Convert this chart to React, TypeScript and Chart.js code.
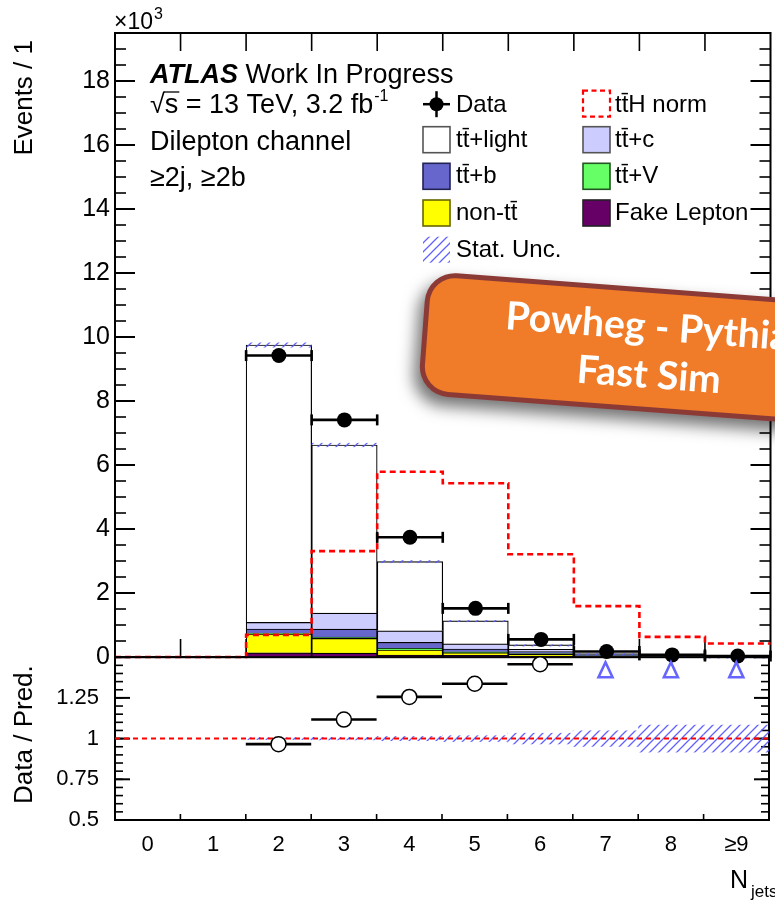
import React, { useEffect, useRef } from 'react';
import { Chart, registerables } from 'chart.js';

Chart.register(...registerables);

const FONT = '"Liberation Sans", Arial, Helvetica, sans-serif';

// ---------------- data (values in units of 10^3 events) ----------------
const categories = ['0', '1', '2', '3', '4', '5', '6', '7', '8', '≥9'];
const fakeLepton = [null, null, 0.13, 0.12, 0.06, 0.05, 0.03, 0.01, 0.004, 0.002];
const nonTT = [null, null, 0.59, 0.46, 0.16, 0.085, 0.05, 0.015, 0.005, 0.002];
const ttV = [null, null, 0.02, 0.04, 0.05, 0.03, 0.03, 0.015, 0.005, 0.003];
const ttB = [null, null, 0.135, 0.25, 0.19, 0.085, 0.06, 0.02, 0.006, 0.003];
const ttC = [null, null, 0.205, 0.5, 0.36, 0.16, 0.07, 0.02, 0.006, 0.003];
const ttLight = [null, null, 8.67, 5.255, 2.16, 0.72, 0.14, 0.03, 0.008, 0.004];
const dataEvents = [null, null, 9.42, 7.41, 3.74, 1.52, 0.55, 0.17, 0.065, 0.03];
const ttHNorm = [0, 0, 0.69, 3.31, 5.79, 5.43, 3.21, 1.59, 0.63, 0.42];
const statUncRel = [null, null, 0.008, 0.01, 0.015, 0.02, 0.035, 0.05, 0.085, 0.085];
const ratioValues = [null, null, 0.966, 1.117, 1.256, 1.337, 1.457, 1.6, 2.0, 1.8];

const mcStack = [fakeLepton, nonTT, ttV, ttB, ttC, ttLight];

// ---------------- helpers ----------------
function makeHatch(ctx: CanvasRenderingContext2D) {
  const c = document.createElement('canvas');
  c.width = 9;
  c.height = 9;
  const g = c.getContext('2d')!;
  g.strokeStyle = 'rgba(90,90,255,0.95)';
  g.lineWidth = 1.3;
  g.beginPath();
  g.moveTo(-1, 10);
  g.lineTo(10, -1);
  g.moveTo(-1, 1);
  g.lineTo(1, -1);
  g.moveTo(8, 10);
  g.lineTo(10, 8);
  g.stroke();
  return ctx.createPattern(c, 'repeat')!;
}

function line(ctx: CanvasRenderingContext2D, x1: number, y1: number, x2: number, y2: number) {
  ctx.beginPath();
  ctx.moveTo(x1, y1);
  ctx.lineTo(x2, y2);
  ctx.stroke();
}

function range(a: number, b: number, s: number) {
  const out: number[] = [];
  for (let k = 0; a + k * s <= b + 1e-9; k++) out.push(+(a + k * s).toFixed(4));
  return out;
}

function drawFrame(chart: any, yMajor: number[], yMinor: number[], majLen: number, minLen: number, xTop: number, xBottom: number) {
  const { ctx, chartArea: ca } = chart;
  const y = chart.scales.y;
  const x = chart.scales.x;
  ctx.save();
  ctx.strokeStyle = '#000';
  ctx.lineWidth = 2;
  ctx.strokeRect(ca.left, ca.top, ca.right - ca.left, ca.bottom - ca.top);
  ctx.lineWidth = 1.6;
  for (const v of yMinor) {
    const p = y.getPixelForValue(v);
    line(ctx, ca.left, p, ca.left + minLen, p);
    line(ctx, ca.right - minLen, p, ca.right, p);
  }
  ctx.lineWidth = 2;
  for (const v of yMajor) {
    const p = y.getPixelForValue(v);
    line(ctx, ca.left, p, ca.left + majLen, p);
    line(ctx, ca.right - majLen, p, ca.right, p);
  }
  ctx.lineWidth = 1.6;
  for (let i = 0; i < categories.length - 1; i++) {
    const px = x.getPixelForValue(i + 0.5);
    if (xTop > 0) line(ctx, px, ca.top, px, ca.top + xTop);
    if (xBottom > 0) line(ctx, px, ca.bottom, px, ca.bottom - xBottom);
  }
  ctx.restore();
}

function drawCallout(ctx: CanvasRenderingContext2D) {
  ctx.save();
  ctx.translate(427, 271);
  ctx.rotate((4.3 * Math.PI) / 180);
  ctx.shadowColor = 'rgba(0,0,0,0.55)';
  ctx.shadowBlur = 16;
  ctx.shadowOffsetX = -6;
  ctx.shadowOffsetY = 9;
  ctx.beginPath();
  (ctx as any).roundRect(0, 0, 440, 124, 30);
  ctx.fillStyle = '#8c3a36';
  ctx.fill();
  ctx.shadowColor = 'transparent';
  ctx.beginPath();
  (ctx as any).roundRect(5, 5, 430, 114, 25);
  ctx.fillStyle = '#f07b28';
  ctx.fill();
  ctx.fillStyle = '#ffffff';
  ctx.font = 'bold 39px Lato, "Open Sans", sans-serif';
  ctx.textAlign = 'left';
  ctx.textBaseline = 'alphabetic';
  ctx.fillText('Powheg - Pythia', 82, 52);
  ctx.fillText('Fast Sim', 157, 100);
  ctx.restore();
}

function legendBox(ctx: CanvasRenderingContext2D, x: number, base: number, fill: string, stroke: string) {
  ctx.fillStyle = fill;
  ctx.fillRect(x, base - 20, 27, 26);
  ctx.strokeStyle = stroke;
  ctx.lineWidth = 1.6;
  ctx.strokeRect(x, base - 20, 27, 26);
}

function drawTopTexts(chart: any) {
  const ctx: CanvasRenderingContext2D = chart.ctx;
  ctx.save();
  ctx.fillStyle = '#000';
  ctx.textBaseline = 'alphabetic';
  ctx.textAlign = 'left';
  ctx.font = `23px ${FONT}`;
  ctx.fillText('×10', 114, 29);
  const w10 = ctx.measureText('×10').width;
  ctx.font = `16px ${FONT}`;
  ctx.fillText('3', 114 + w10 + 1, 19);

  ctx.save();
  ctx.translate(32, 40);
  ctx.rotate(-Math.PI / 2);
  ctx.font = `26px ${FONT}`;
  ctx.textAlign = 'right';
  ctx.fillText('Events / 1', 0, 0);
  ctx.restore();

  ctx.font = `italic bold 27px ${FONT}`;
  ctx.fillText('ATLAS', 150, 83);
  const wA = ctx.measureText('ATLAS').width;
  ctx.font = `27px ${FONT}`;
  ctx.fillText(' Work In Progress', 150 + wA, 83);

  const s1 = '√s = 13 TeV, 3.2 fb';
  ctx.fillText(s1, 150, 113);
  const wRoot = ctx.measureText('√').width;
  const wS = ctx.measureText('√s').width;
  const w1 = ctx.measureText(s1).width;
  ctx.strokeStyle = '#000';
  ctx.lineWidth = 1.3;
  line(ctx, 150 + wRoot - 1, 92, 150 + wS + 1, 92);
  ctx.font = `16px ${FONT}`;
  ctx.fillText('-1', 150 + w1 + 1, 101);
  ctx.font = `27px ${FONT}`;
  ctx.fillText('Dilepton channel', 150, 150);
  ctx.fillText('≥2j, ≥2b', 150, 186);

  const rows = [111.7, 146.7, 183.3, 220, 256.7];
  const c1b = 423, c1t = 456, c2b = 583, c2t = 615;
  ctx.font = `24px ${FONT}`;
  ctx.strokeStyle = '#000';
  ctx.lineWidth = 2.5;
  const cy = rows[0] - 7.5;
  line(ctx, c1b, cy, c1b + 27, cy);
  line(ctx, c1b + 13.5, cy - 13, c1b + 13.5, cy + 13);
  ctx.beginPath();
  ctx.arc(c1b + 13.5, cy, 7, 0, Math.PI * 2);
  ctx.fillStyle = '#000';
  ctx.fill();
  ctx.fillText('Data', c1t, rows[0]);
  ctx.save();
  ctx.strokeStyle = '#ff0000';
  ctx.lineWidth = 2.2;
  ctx.setLineDash([5, 3.5]);
  ctx.strokeRect(c2b, rows[0] - 21, 27, 26);
  ctx.restore();
  ctx.fillStyle = '#000';
  ctx.fillText('tt\u0304H norm', c2t, rows[0]);

  const entries = [
    [c1b, c1t, rows[1], '#ffffff', '#555555', 'tt\u0304+light'],
    [c2b, c2t, rows[1], '#ccccff', '#555555', 'tt\u0304+c'],
    [c1b, c1t, rows[2], '#6666cc', '#222255', 'tt\u0304+b'],
    [c2b, c2t, rows[2], '#66ff66', '#225522', 'tt\u0304+V'],
    [c1b, c1t, rows[3], '#ffff00', '#666600', 'non-tt\u0304'],
    [c2b, c2t, rows[3], '#660066', '#222222', 'Fake Lepton'],
  ] as const;
  for (const [bx, tx, base, fill, stroke, label] of entries) {
    legendBox(ctx, bx, base, fill, stroke);
    ctx.fillStyle = '#000';
    ctx.fillText(label, tx, base);
  }
  ctx.fillStyle = makeHatch(ctx);
  ctx.fillRect(c1b, rows[4] - 20, 27, 26);
  ctx.fillStyle = '#000';
  ctx.fillText('Stat. Unc.', c1t, rows[4]);
  ctx.restore();

  drawCallout(ctx);
}

function drawMainHatch(chart: any) {
  const { ctx } = chart;
  const y = chart.scales.y;
  const x = chart.scales.x;
  ctx.save();
  ctx.fillStyle = makeHatch(ctx);
  for (let i = 0; i < categories.length; i++) {
    const u = statUncRel[i];
    if (u == null) continue;
    let tot = 0;
    for (const s of mcStack) tot += (s[i] as number) || 0;
    const y1 = y.getPixelForValue(tot * (1 + u));
    const y2 = y.getPixelForValue(tot * (1 - u));
    const x1 = x.getPixelForValue(i - 0.5);
    const x2 = x.getPixelForValue(i + 0.5);
    ctx.fillRect(x1, y1, x2 - x1, Math.max(y2 - y1, 2));
  }
  ctx.restore();
}

function drawDataErrors(chart: any) {
  const { ctx } = chart;
  const y = chart.scales.y;
  const x = chart.scales.x;
  ctx.save();
  ctx.strokeStyle = '#000';
  ctx.lineWidth = 2.6;
  for (let i = 0; i < categories.length; i++) {
    const v = dataEvents[i];
    if (v == null) continue;
    const py = y.getPixelForValue(v);
    const x1 = x.getPixelForValue(i - 0.5);
    const x2 = x.getPixelForValue(i + 0.5);
    line(ctx, x1, py, x2, py);
    line(ctx, x1, py - 5.5, x1, py + 5.5);
    line(ctx, x2, py - 5.5, x2, py + 5.5);
  }
  ctx.restore();
}

const topPlugin = {
  id: 'topDecor',
  beforeDatasetsDraw(chart: any) {
    drawFrame(chart, range(0, 18, 2), range(0, 19.5, 0.5), 20, 11, 18, 18);
  },
  beforeDatasetDraw(chart: any, args: any) {
    if (args.index === 6) drawMainHatch(chart);
    if (args.index === 7) drawDataErrors(chart);
  },
  afterDraw(chart: any) {
    drawTopTexts(chart);
  },
};

const botPlugin = {
  id: 'botDecor',
  beforeDatasetsDraw(chart: any) {
    const { ctx, chartArea: ca } = chart;
    const y = chart.scales.y;
    const x = chart.scales.x;
    drawFrame(chart, range(0.5, 1.5, 0.25), range(0.5, 1.5, 0.05), 15, 8, 0, 6);
    ctx.save();
    ctx.fillStyle = makeHatch(ctx);
    for (let i = 0; i < categories.length; i++) {
      const u = statUncRel[i];
      if (u == null) continue;
      const y1 = y.getPixelForValue(1 + u);
      const y2 = y.getPixelForValue(1 - u);
      const x1 = x.getPixelForValue(i - 0.5);
      const x2 = x.getPixelForValue(i + 0.5);
      ctx.fillRect(x1, y1, x2 - x1, Math.max(y2 - y1, 2));
    }
    ctx.strokeStyle = '#ff0000';
    ctx.lineWidth = 2;
    ctx.setLineDash([5, 4]);
    const p1 = y.getPixelForValue(1);
    line(ctx, ca.left, p1, ca.right, p1);
    ctx.setLineDash([]);
    ctx.strokeStyle = '#000';
    ctx.lineWidth = 2.6;
    for (let i = 0; i < categories.length; i++) {
      const v = ratioValues[i];
      if (v == null || v > y.max) continue;
      const py = y.getPixelForValue(v);
      line(ctx, x.getPixelForValue(i - 0.5), py, x.getPixelForValue(i + 0.5), py);
    }
    ctx.restore();
  },
  afterDraw(chart: any) {
    const { ctx, chartArea: ca } = chart;
    const y = chart.scales.y;
    const x = chart.scales.x;
    ctx.save();
    ctx.strokeStyle = 'rgb(102,102,255)';
    ctx.lineWidth = 2.6;
    for (let i = 0; i < categories.length; i++) {
      const v = ratioValues[i];
      if (v == null || v <= y.max) continue;
      const cx = x.getPixelForValue(i);
      ctx.beginPath();
      ctx.moveTo(cx, ca.top + 5);
      ctx.lineTo(cx + 7, ca.top + 20);
      ctx.lineTo(cx - 7, ca.top + 20);
      ctx.closePath();
      ctx.stroke();
    }
    ctx.fillStyle = '#000';
    ctx.save();
    ctx.translate(32, ca.top + 8);
    ctx.rotate(-Math.PI / 2);
    ctx.font = `26px ${FONT}`;
    ctx.textAlign = 'right';
    ctx.fillText('Data / Pred.', 0, 0);
    ctx.restore();
    ctx.textAlign = 'left';
    ctx.font = `25px ${FONT}`;
    ctx.fillText('N', 730, ca.bottom + 68);
    const wN = ctx.measureText('N').width;
    ctx.font = `17px ${FONT}`;
    ctx.fillText('jets', 730 + wN + 3, ca.bottom + 77);
    ctx.restore();
  },
};

function barDs(label: string, data: (number | null)[], bg: string) {
  return {
    type: 'bar' as const,
    label,
    data: data.map((v, i) => ({ x: i, y: v })),
    backgroundColor: bg,
    borderColor: '#000',
    borderWidth: 1.2,
    categoryPercentage: 1,
    barPercentage: 1,
    stack: 'mc',
    order: 3,
  };
}

const binTicks = (s: any) => {
  s.ticks = categories.map((_, i) => ({ value: i }));
};

export default function App() {
  const topRef = useRef<HTMLCanvasElement>(null);
  const botRef = useRef<HTMLCanvasElement>(null);

  useEffect(() => {
    const tthPoints = ttHNorm.map((v, i) => ({ x: i - 0.5, y: v }));
    tthPoints.push({ x: categories.length - 0.5, y: ttHNorm[ttHNorm.length - 1] });

    const top = new Chart(topRef.current!, {
      type: 'line',
      data: {
        datasets: [
          barDs('Fake Lepton', fakeLepton, '#660066'),
          barDs('non-tt', nonTT, '#ffff00'),
          barDs('tt+V', ttV, '#66ff66'),
          barDs('tt+b', ttB, '#6666cc'),
          barDs('tt+c', ttC, '#ccccff'),
          barDs('tt+light', ttLight, '#ffffff'),
          {
            type: 'line',
            label: 'ttH norm',
            data: tthPoints,
            stepped: true,
            borderColor: '#ff0000',
            borderDash: [6, 4],
            borderWidth: 2.6,
            pointRadius: 0,
            fill: false,
            stack: 'tth',
            order: 2,
            clip: false,
          },
          {
            type: 'line',
            label: 'Data',
            data: dataEvents.map((v, i) => ({ x: i, y: v })),
            showLine: false,
            pointRadius: 7.5,
            pointBackgroundColor: '#000',
            pointBorderColor: '#000',
            pointBorderWidth: 0,
            stack: 'data',
            order: 1,
            clip: false,
          },
        ],
      },
      options: {
        responsive: false,
        animation: false,
        devicePixelRatio: 1,
        events: [],
        layout: { padding: { top: 33, bottom: 33, left: 0, right: 1 } },
        plugins: { legend: { display: false }, tooltip: { enabled: false } },
        scales: {
          x: {
            type: 'linear',
            display: false,
            offset: false,
            grid: { offset: false },
            min: -0.5,
            max: categories.length - 0.5,
            afterBuildTicks: binTicks,
          },
          y: {
            type: 'linear',
            min: 0,
            max: 19.5,
            stacked: true,
            grid: { display: false, drawTicks: false },
            border: { display: false },
            ticks: { stepSize: 2, includeBounds: false, padding: 5, color: '#000', font: { family: FONT, size: 25 } },
            afterFit: (s: any) => {
              s.width = 115;
            },
          },
        },
      } as any,
      plugins: [topPlugin],
    } as any);

    const bot = new Chart(botRef.current!, {
      type: 'line',
      data: {
        datasets: [
          {
            label: 'Data / Pred.',
            data: ratioValues.map((v, i) => ({ x: i, y: v != null && v <= 1.5 ? v : null })),
            showLine: false,
            pointRadius: 7.5,
            pointBackgroundColor: '#ffffff',
            pointBorderColor: '#000',
            pointBorderWidth: 1.5,
            clip: false,
          },
        ],
      },
      options: {
        responsive: false,
        animation: false,
        devicePixelRatio: 1,
        events: [],
        layout: { padding: { top: 0, bottom: 0, left: 0, right: 1 } },
        plugins: { legend: { display: false }, tooltip: { enabled: false } },
        scales: {
          x: {
            type: 'linear',
            offset: false,
            min: -0.5,
            max: categories.length - 0.5,
            afterBuildTicks: binTicks,
            grid: { display: false, drawTicks: false, offset: false },
            border: { display: false },
            ticks: {
              autoSkip: false,
              maxRotation: 0,
              padding: 12,
              color: '#000',
              font: { family: FONT, size: 22 },
              callback: (v: any) => categories[Math.round(v)] ?? '',
            },
            afterFit: (s: any) => {
              s.height = 80;
            },
          },
          y: {
            type: 'linear',
            min: 0.5,
            max: 1.5,
            grid: { display: false, drawTicks: false },
            border: { display: false },
            ticks: {
              stepSize: 0.25,
              includeBounds: false,
              padding: 16,
              color: '#000',
              font: { family: FONT, size: 22 },
              callback: (v: any) => (Math.abs(v - 1.5) < 1e-9 ? '' : String(v)),
            },
            afterFit: (s: any) => {
              s.width = 115;
            },
          },
        },
      } as any,
      plugins: [botPlugin],
    } as any);

    return () => {
      top.destroy();
      bot.destroy();
    };
  }, []);

  return (
    <div style={{ position: 'absolute', left: 0, top: 0, width: 775, height: 900, overflow: 'hidden', background: '#fff' }}>
      <canvas ref={topRef} width={778} height={690} style={{ position: 'absolute', left: 0, top: 0, width: 778, height: 690 }} />
      <canvas ref={botRef} width={778} height={272} style={{ position: 'absolute', left: 0, top: 628, width: 778, height: 272 }} />
    </div>
  );
}
